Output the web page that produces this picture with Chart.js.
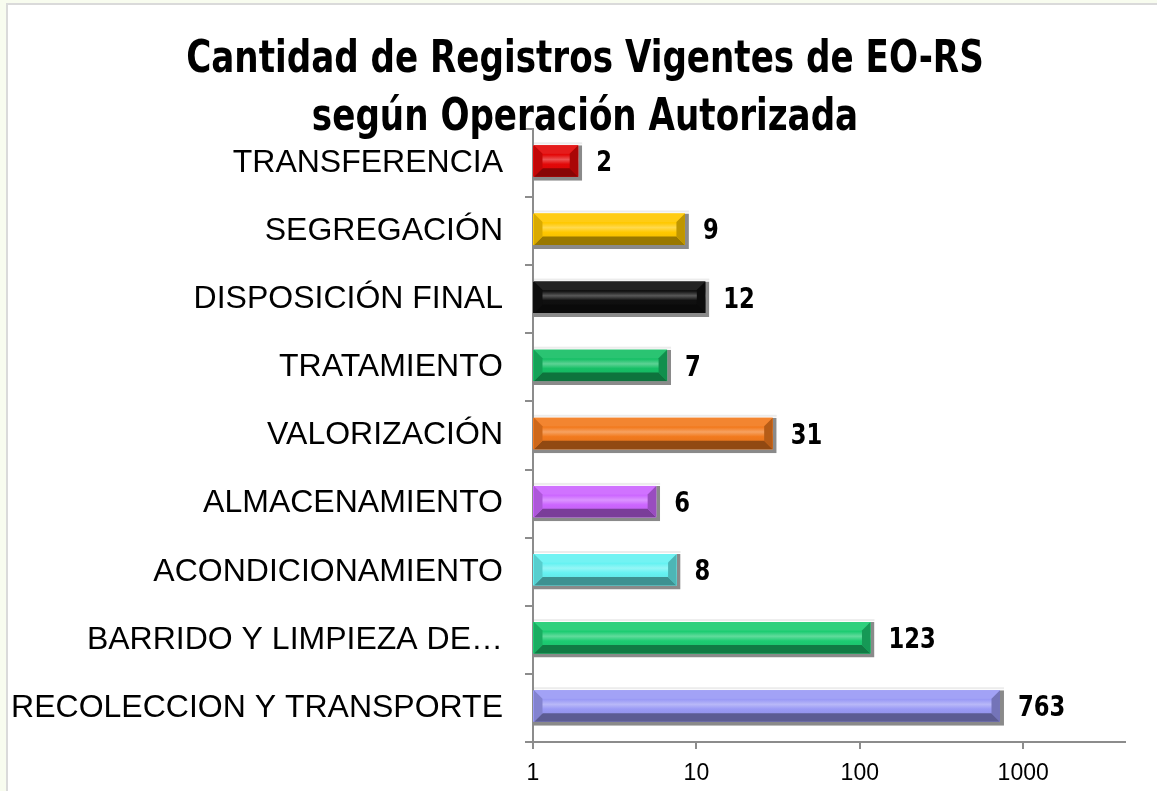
<!DOCTYPE html>
<html>
<head>
<meta charset="utf-8">
<script src="https://cdn.jsdelivr.net/npm/chart.js@4.4.1/dist/chart.umd.min.js"></script>
<style>
  html, body { margin: 0; padding: 0; background: #f8fcef; }
  #frame {
    position: absolute; left: 6px; top: 3px; width: 1160px; height: 800px;
    background: #ffffff; border-left: 2px solid #dadada; border-top: 2px solid #dadada;
  }
  #wrap { position: absolute; left: 0; top: 0; width: 1157px; height: 791px; }
</style>
</head>
<body>
<div id="frame"></div>
<div id="wrap"><canvas id="operacionesChart"></canvas></div>
<script>
const titulo = ["Cantidad de Registros Vigentes de EO-RS", "según Operación Autorizada"];
const categorias = [
  "TRANSFERENCIA",
  "SEGREGACIÓN",
  "DISPOSICIÓN FINAL",
  "TRATAMIENTO",
  "VALORIZACIÓN",
  "ALMACENAMIENTO",
  "ACONDICIONAMIENTO",
  "BARRIDO Y LIMPIEZA DE…",
  "RECOLECCION Y TRANSPORTE"
];
const registros = [2, 9, 12, 7, 31, 6, 8, 123, 763];
const coloresBarra = [
  "#e30808", "#ffc800", "#101010", "#17bf66", "#f27a1e",
  "#cc66ff", "#66f2f2", "#1dcc72", "#9a9af5"
];
const ticksX = [1, 10, 100, 1000];

const fuenteTitulo = "'Liberation Sans Narrow', 'DejaVu Sans Condensed', 'Open Sans', sans-serif";
const fuenteEjes = "'Liberation Sans', Arial, sans-serif";

function mezclar(hex, destino, t) {
  const n = parseInt(hex.slice(1), 16);
  const r = (n >> 16) & 255, g = (n >> 8) & 255, b = n & 255;
  const d = destino === "white" ? 255 : 0;
  const f = (c) => Math.round(c + (d - c) * t);
  return `rgb(${f(r)}, ${f(g)}, ${f(b)})`;
}

// titulo estrecho (parecido a Calibri), centrado sobre el grafico
const tituloPlugin = {
  id: "tituloEstrecho",
  afterDraw(chart) {
    const ctx = chart.ctx;
    ctx.save();
    ctx.font = `bold 44px ${fuenteTitulo}`;
    ctx.fillStyle = "#000";
    ctx.textAlign = "center";
    ctx.textBaseline = "alphabetic";
    ctx.translate(585, 0);
    ctx.scale(0.863, 1);
    ctx.fillText(titulo[0], 0, 72);
    ctx.fillText(titulo[1], 0, 130);
    ctx.restore();
  }
};

// relieve tipo bisel sobre cada barra
const biselPlugin = {
  id: "bisel",
  afterDatasetsDraw(chart) {
    const ctx = chart.ctx;
    const meta = chart.getDatasetMeta(0);
    meta.data.forEach((bar, i) => {
      const c = coloresBarra[i];
      const x0 = bar.base + 1;
      const x1 = bar.x - 4;
      const y0 = bar.y - bar.height / 2;
      const y1 = bar.y + bar.height / 2 - 4;
      const h = y1 - y0;
      const b = Math.min(h * 0.27, (x1 - x0) / 2);

      ctx.save();
      ctx.fillStyle = "#ececec";
      ctx.fillRect(x0, y0 - 3, bar.x - x0, 2);

      const g = ctx.createLinearGradient(0, y0, 0, y1);
      g.addColorStop(0, mezclar(c, "white", 0.12));
      g.addColorStop(0.3, c);
      g.addColorStop(0.45, mezclar(c, "white", 0.3));
      g.addColorStop(0.6, c);
      g.addColorStop(1, mezclar(c, "black", 0.1));
      ctx.fillStyle = g;
      ctx.fillRect(x0, y0, x1 - x0, h);

      ctx.fillStyle = mezclar(c, "white", 0.08);
      ctx.beginPath();
      ctx.moveTo(x0, y0); ctx.lineTo(x1, y0); ctx.lineTo(x1 - b, y0 + b); ctx.lineTo(x0 + b, y0 + b);
      ctx.closePath(); ctx.fill();
      ctx.fillStyle = mezclar(c, "black", 0.4);
      ctx.beginPath();
      ctx.moveTo(x0, y1); ctx.lineTo(x1, y1); ctx.lineTo(x1 - b, y1 - b); ctx.lineTo(x0 + b, y1 - b);
      ctx.closePath(); ctx.fill();
      ctx.fillStyle = mezclar(c, "black", 0.25);
      ctx.beginPath();
      ctx.moveTo(x1, y0); ctx.lineTo(x1, y1); ctx.lineTo(x1 - b, y1 - b); ctx.lineTo(x1 - b, y0 + b);
      ctx.closePath(); ctx.fill();
      ctx.fillStyle = mezclar(c, "black", 0.15);
      ctx.beginPath();
      ctx.moveTo(x0, y0); ctx.lineTo(x0, y1); ctx.lineTo(x0 + b, y1 - b); ctx.lineTo(x0 + b, y0 + b);
      ctx.closePath(); ctx.fill();
      ctx.restore();
    });
  }
};

// etiquetas de valor al final de cada barra
const valoresPlugin = {
  id: "valores",
  afterDatasetsDraw(chart) {
    const ctx = chart.ctx;
    const meta = chart.getDatasetMeta(0);
    ctx.save();
    ctx.font = `bold 28px ${fuenteTitulo}`;
    ctx.fillStyle = "#000";
    ctx.textAlign = "left";
    ctx.textBaseline = "middle";
    meta.data.forEach((bar, i) => {
      ctx.save();
      ctx.translate(bar.x + 14, bar.y + 1);
      ctx.scale(0.9, 1);
      ctx.fillText(String(registros[i]), 0, 0);
      ctx.restore();
    });
    ctx.restore();
  }
};

const ctx = document.getElementById("operacionesChart").getContext("2d");
new Chart(ctx, {
  type: "bar",
  data: {
    labels: categorias,
    datasets: [{
      label: "Registros vigentes",
      data: registros,
      backgroundColor: coloresBarra,
      borderColor: "#8a8a8a",
      borderWidth: { top: 0, left: 0, right: 4, bottom: 4 },
      borderSkipped: false,
      barPercentage: 0.52,
      categoryPercentage: 1
    }]
  },
  options: {
    indexAxis: "y",
    responsive: true,
    maintainAspectRatio: false,
    animation: false,
    layout: { padding: { left: 0, right: 32, top: 129, bottom: 0 } },
    plugins: {
      legend: { display: false },
      tooltip: { enabled: false },
      title: { display: false }
    },
    scales: {
      x: {
        type: "logarithmic",
        min: 1,
        max: 4200,
        afterBuildTicks: (axis) => {
          axis.ticks = ticksX.map((v) => ({ value: v }));
        },
        afterFit: (scale) => { scale.height = 49; },
        ticks: {
          color: "#000",
          font: { family: fuenteEjes, size: 23 },
          padding: 11,
          callback: (value) => String(value)
        },
        grid: { drawOnChartArea: false, tickLength: 7, color: "#8c8c8c", lineWidth: 2 },
        border: { color: "#8c8c8c", width: 2 }
      },
      y: {
        afterFit: (scale) => { scale.width = 533; },
        ticks: {
          color: "#000",
          font: { family: fuenteEjes, size: 32 },
          padding: 22
        },
        grid: { drawOnChartArea: false, offset: true, tickLength: 8, color: "#8c8c8c", lineWidth: 2 },
        border: { color: "#8c8c8c", width: 2 }
      }
    }
  },
  plugins: [biselPlugin, valoresPlugin, tituloPlugin]
});
</script>
</body>
</html>
